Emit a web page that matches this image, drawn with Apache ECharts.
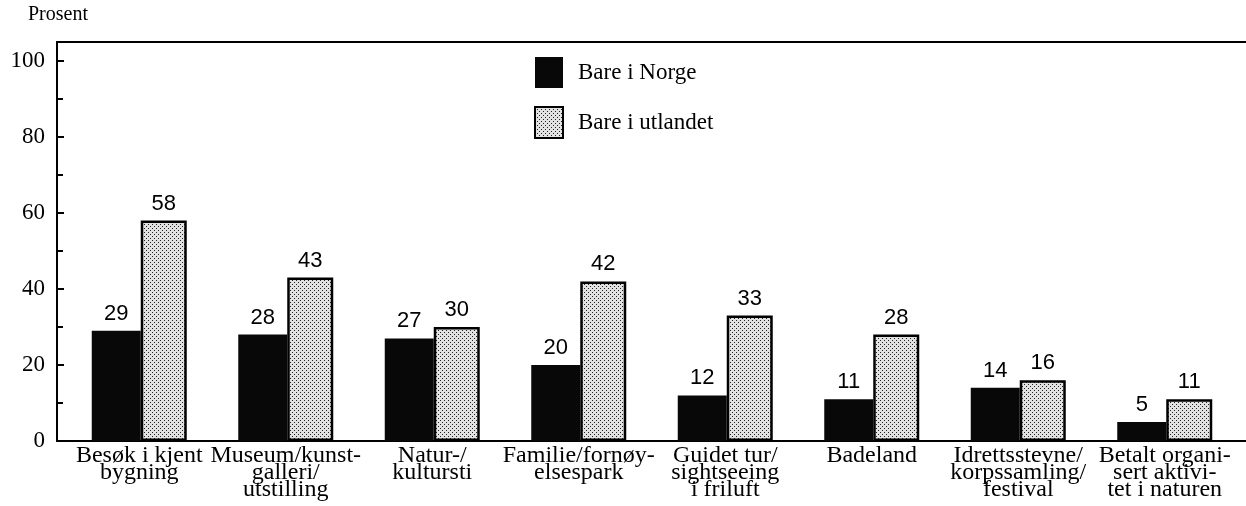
<!DOCTYPE html>
<html>
<head>
<meta charset="utf-8">
<script src="https://cdn.jsdelivr.net/npm/echarts@6/dist/echarts.min.js"></script>
<style>
  html, body { margin: 0; padding: 0; background: #fff; }
  #chart { width: 1246px; height: 506px; }
</style>
</head>
<body>
<div id="chart"></div>
<script>
const categories = [
  'Besøk i kjent\nbygning',
  'Museum/kunst-\ngalleri/\nutstilling',
  'Natur-/\nkultursti',
  'Familie/fornøy-\nelsespark',
  'Guidet tur/\nsightseeing\ni friluft',
  'Badeland',
  'Idrettsstevne/\nkorpssamling/\nfestival',
  'Betalt organi-\nsert aktivi-\ntet i naturen'
];
const norge = [29, 28, 27, 20, 12, 11, 14, 5];
const utland = [58, 43, 30, 42, 33, 28, 16, 11];
const yTicks = [0, 20, 40, 60, 80, 100];

// dotted raster fill for the second series
const tile = document.createElement('canvas');
tile.width = 4;
tile.height = 4;
const tc = tile.getContext('2d');
tc.fillStyle = '#e2e2e2';
tc.fillRect(0, 0, 4, 4);
tc.fillStyle = '#222';
tc.fillRect(0, 0, 1, 1);
tc.fillRect(2, 2, 1, 1);

const chart = echarts.init(document.getElementById('chart'));

const serif = 'Liberation Serif';
const sans = 'Liberation Sans';

const option = {
  animation: false,
  graphic: [{
    type: 'text',
    left: 28,
    top: 5,
    style: { text: 'Prosent', font: '20px "Liberation Serif"', fill: '#000' }
  }],
  legend: {
    orient: 'vertical',
    left: 534,
    top: 57,
    padding: 0,
    icon: 'rect',
    itemWidth: 28,
    itemHeight: 31,
    itemGap: 18,
    textStyle: { fontFamily: serif, fontSize: 23, color: '#000', padding: [0, 0, 0, 10] },
    data: ['Bare i Norge', 'Bare i utlandet']
  },
  grid: [
    { left: 57, right: 0, top: 42, bottom: 65 },
    { left: 66, right: 8, top: 42, bottom: 65 }
  ],
  xAxis: [
    {
      gridIndex: 0, type: 'value', position: 'bottom', min: 0, max: 1,
      axisLine: { show: true, lineStyle: { color: '#000', width: 2 } },
      axisTick: { show: false }, axisLabel: { show: false }, splitLine: { show: false }
    },
    {
      gridIndex: 0, type: 'value', position: 'top', min: 0, max: 1,
      axisLine: { show: true, lineStyle: { color: '#000', width: 2 } },
      axisTick: { show: false }, axisLabel: { show: false }, splitLine: { show: false }
    },
    {
      gridIndex: 1, type: 'category', data: categories,
      axisLine: { show: false }, axisTick: { show: false },
      axisLabel: {
        interval: 0, margin: 6, color: '#000',
        fontFamily: serif, fontSize: 24, lineHeight: 17
      }
    }
  ],
  yAxis: [
    {
      gridIndex: 0, type: 'value', min: 0, max: 105, interval: 20,
      axisLine: { show: true, lineStyle: { color: '#000', width: 2 } },
      axisTick: { show: true, inside: true, length: 7, lineStyle: { color: '#000', width: 2 } },
      minorTick: { show: true, splitNumber: 2, length: 6, lineStyle: { color: '#000', width: 2 } },
      axisLabel: {
        margin: 12, color: '#000', fontFamily: serif, fontSize: 23,
        formatter: v => (yTicks.indexOf(v) >= 0 ? String(v) : '')
      },
      splitLine: { show: false }
    },
    {
      gridIndex: 1, type: 'value', min: 0, max: 105, show: false
    }
  ],
  series: [
    {
      name: 'Bare i Norge',
      type: 'bar',
      xAxisIndex: 2,
      yAxisIndex: 1,
      barWidth: 49,
      barGap: '0%',
      data: norge,
      itemStyle: { color: '#080808' },
      label: { show: true, position: 'top', distance: 6, color: '#000', fontFamily: sans, fontSize: 22 }
    },
    {
      name: 'Bare i utlandet',
      type: 'bar',
      xAxisIndex: 2,
      yAxisIndex: 1,
      barWidth: 46,
      data: utland,
      itemStyle: { color: { image: tile, repeat: 'repeat' }, borderColor: '#000', borderWidth: 2.5 },
      label: { show: true, position: 'top', distance: 6, color: '#000', fontFamily: sans, fontSize: 22 }
    }
  ]
};

chart.setOption(option);
</script>
</body>
</html>
